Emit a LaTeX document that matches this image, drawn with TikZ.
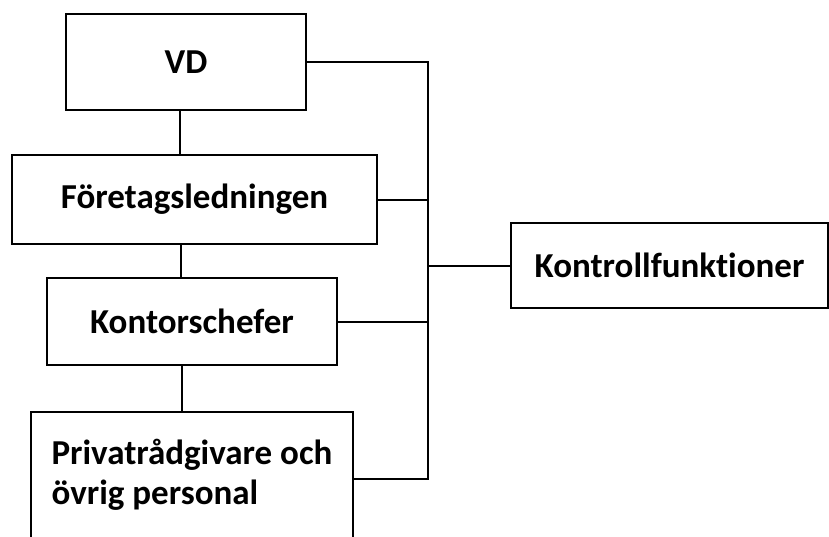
\documentclass[tikz,border=0pt]{standalone}
\usepackage{fontspec}
\setmainfont{Carlito}[Ligatures=NoCommon]
\begin{document}
\begin{tikzpicture}[x=1pt,y=-1pt,line width=2pt]
  \tikzstyle{every node}=[rectangle,draw,inner sep=0pt,font=\fontsize{35}{40}\selectfont\bfseries]
  \useasboundingbox (0,0) rectangle (829,536);
  \clip (0,0) rectangle (829,536);
  \node[minimum width=240,minimum height=96] (vd) at (186,62) {VD};
  \node[minimum width=365,minimum height=89] (ledning) at (194.5,199.5) {Företagsledningen};
  \node[minimum width=290,minimum height=87] (chefer) at (192,321.5) {Kontorschefer};
  \node[minimum width=322,minimum height=126,align=left] (personal) at (192,475)
       {Privatrådgivare och\\övrig personal};
  \node[minimum width=317,minimum height=85] (kontroll) at (669.5,265.5) {Kontrollfunktioner};
  \coordinate (bus) at (428,479);
  % linjen
  \draw ([xshift=-6pt]vd.south) -- ([xshift=-6pt]vd.south |- ledning.north);
  \draw ([xshift=-14pt]ledning.south) -- ([xshift=-14pt]ledning.south |- chefer.north);
  \draw ([xshift=-10pt]chefer.south) -- ([xshift=-10pt]chefer.south |- personal.north);
  % kontroll
  \draw (vd.east) -| (bus) -- (personal.east |- bus);
  \draw (ledning.east) -- (ledning.east -| bus);
  \draw (chefer.east) -- (chefer.east -| bus);
  \draw (kontroll.west) -- (kontroll.west -| bus);
\end{tikzpicture}
\end{document}
